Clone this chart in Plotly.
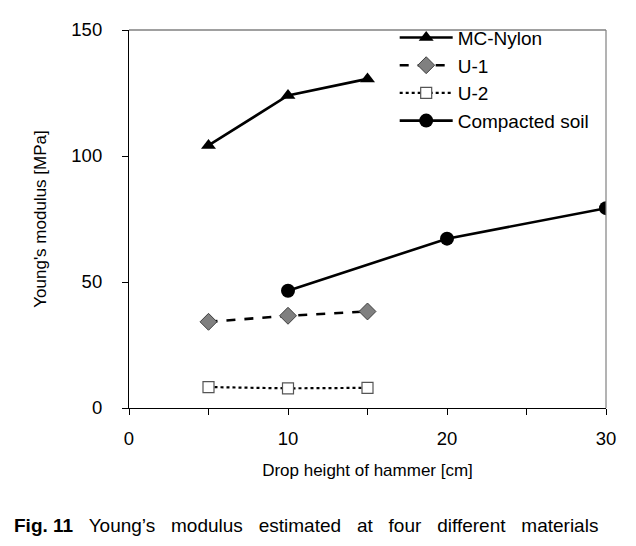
import plotly.graph_objects as go

x_nylon = [5, 10, 15]
y_nylon = [104.2, 124.0, 130.6]
x_u1 = [5, 10, 15]
y_u1 = [34.2, 36.6, 38.3]
x_u2 = [5, 10, 15]
y_u2 = [8.3, 7.8, 8.0]
x_soil = [10, 20, 30]
y_soil = [46.5, 67.2, 79.3]

x_tickvals = [0, 5, 10, 15, 20, 25, 30]
x_ticktext = ["0", "", "10", "", "20", "", "30"]
y_ticks = [0, 50, 100, 150]

fig = go.Figure()
fig.add_trace(go.Scatter(x=x_nylon, y=y_nylon, name="MC-Nylon", mode="lines+markers",
                         line=dict(color="black", width=2.6),
                         marker=dict(symbol="triangle-up", size=13, color="black")))
fig.add_trace(go.Scatter(x=x_u1, y=y_u1, name="U-1", mode="lines+markers",
                         line=dict(color="black", width=2.6, dash="dash"),
                         marker=dict(symbol="diamond", size=13, color="#808080",
                                     line=dict(color="#404040", width=1))))
fig.add_trace(go.Scatter(x=x_u2, y=y_u2, name="U-2", mode="lines+markers",
                         line=dict(color="black", width=2.2, dash="dot"),
                         marker=dict(symbol="square", size=11, color="white",
                                     line=dict(color="#555555", width=1.2))))
fig.add_trace(go.Scatter(x=x_soil, y=y_soil, name="Compacted soil", mode="lines+markers",
                         line=dict(color="black", width=2.6),
                         marker=dict(symbol="circle", size=14, color="black")))

font_main = "Liberation Sans, Arial, sans-serif"

fig.update_layout(
    width=620, height=530,
    margin=dict(l=121, r=22, t=11, b=130),
    paper_bgcolor="white", plot_bgcolor="white",
    font=dict(family=font_main, color="black"),
    showlegend=True,
    legend=dict(x=0.557, y=1.03, xanchor="left", yanchor="top",
                font=dict(size=19, family=font_main), bgcolor="rgba(0,0,0,0)",
                tracegroupgap=0, itemwidth=53),
    xaxis=dict(range=[0, 30], tickvals=x_tickvals, ticktext=x_ticktext,
               showgrid=False, zeroline=False, showline=True, linecolor="black",
               linewidth=1.2, ticks="outside", ticklen=6, tickcolor="black",
               tickfont=dict(size=18.5), ticklabelstandoff=8,
               title=dict(text="Drop height of hammer [cm]",
                          font=dict(size=17), standoff=15)),
    yaxis=dict(range=[0, 150], tickvals=y_ticks, showgrid=False, zeroline=False,
               showline=True, linecolor="black", linewidth=1.2, ticks="outside",
               ticklen=6, tickcolor="black", tickfont=dict(size=18.5),
               ticklabelstandoff=16,
               title=dict(text="Young's modulus [MPa]", font=dict(size=17), standoff=20)),
)

# gray top and right frame lines
fig.add_shape(type="line", xref="paper", yref="paper", x0=0, x1=1, y0=1, y1=1,
              line=dict(color="#808080", width=1.5))
fig.add_shape(type="line", xref="paper", yref="paper", x0=1, x1=1, y0=0, y1=1,
              line=dict(color="#808080", width=1.2))

gap = "&nbsp;&nbsp; "
caption = "<b>Fig. 11</b>" + gap + gap.join(["Young’s", "modulus", "estimated", "at",
                                             "four", "different", "materials"])
fig.add_annotation(text=caption,
                   xref="paper", yref="paper", x=-0.245, y=-0.311, xanchor="left",
                   yanchor="middle", showarrow=False,
                   font=dict(size=19, family=font_main))

fig.write_html("out.html")
